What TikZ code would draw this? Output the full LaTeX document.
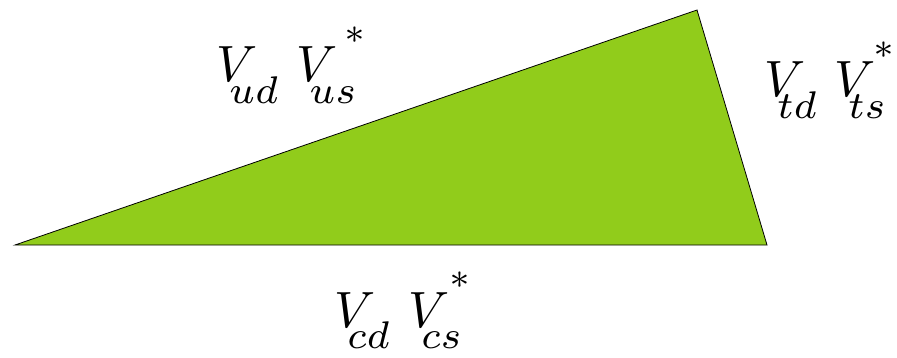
\documentclass[tikz,border=0pt]{standalone}
\usepackage{tikz}
\usetikzlibrary{positioning,calc}
\definecolor{leafgreen}{RGB}{145,204,27}
\newcommand{\ckmsub}[1]{\kern-0.55em\raisebox{-0.42em}{\scalebox{1.08}{$\scriptstyle #1$}}}
\newcommand{\ckmstar}{\kern-0.24em\raisebox{0.76em}{$\scriptstyle *$}}
\tikzset{
  tri/.style={draw=black, fill=leafgreen, line width=0.8pt, line join=miter},
  ckm/.style={inner sep=0pt, scale=5.1, anchor=base west},
}

\begin{document}
\begin{tikzpicture}[x=1pt, y=1pt]
\useasboundingbox (0,0) rectangle (897,357);
\coordinate (ds) at (15,112);
\coordinate (top) at (697,347);
\coordinate (br) at (767,112);
\draw[tri] (ds) -- (top) -- (br) -- cycle;
\node[ckm] (uside) at (215,275) {$V\ckmsub{ud}\kern0.36em V\ckmsub{us}\ckmstar$};
\node[ckm] (tside) at (763,260) {$V\ckmsub{td}\kern0.36em V\ckmsub{ts}\ckmstar$};
\node[ckm] (cside) at (333,30) {$V\ckmsub{cd}\kern0.36em V\ckmsub{cs}\ckmstar$};
\end{tikzpicture}
\end{document}
